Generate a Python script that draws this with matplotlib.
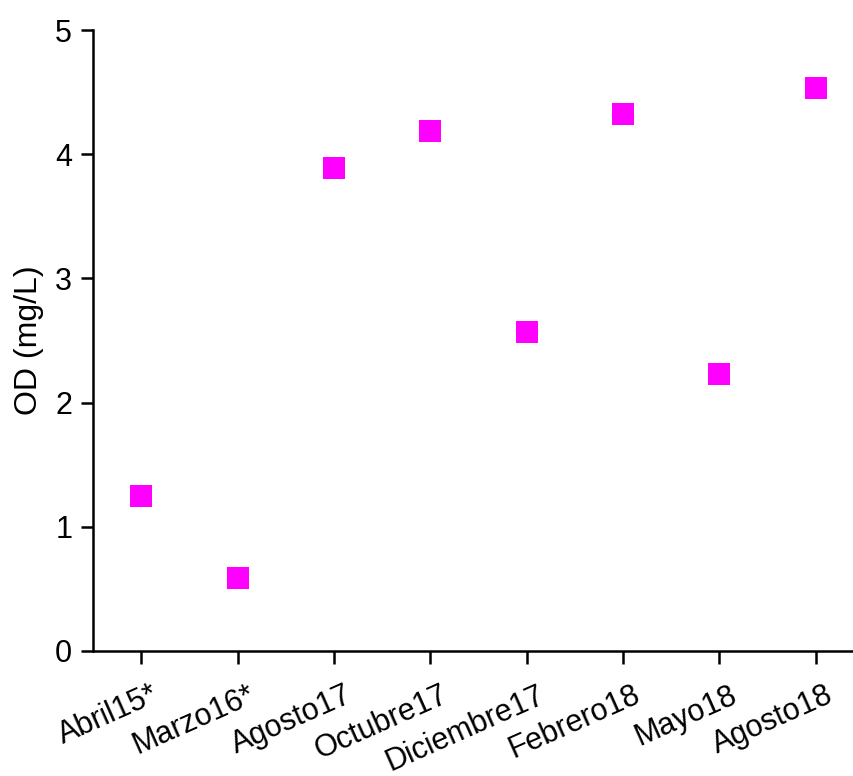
import matplotlib
matplotlib.use("Agg")
import matplotlib.pyplot as plt
from matplotlib.transforms import ScaledTranslation

# Sampling campaigns and dissolved oxygen (mg/L)
campaigns = ["Abril15*", "Marzo16*", "Agosto17", "Octubre17",
             "Diciembre17", "Febrero18", "Mayo18", "Agosto18"]
od_values = [1.25, 0.59, 3.89, 4.19, 2.57, 4.32, 2.23, 4.53]

plt.rcParams["font.family"] = ["Liberation Sans", "DejaVu Sans"]

fig = plt.figure(figsize=(8.54, 7.76), dpi=100)
ax = fig.add_axes([93 / 854, 125 / 776, 771 / 854, 621 / 776])

x = list(range(len(campaigns)))
ax.plot(x, od_values, linestyle="none", marker="s", markersize=16,
        color="#FF00FF", markeredgewidth=0, clip_on=False)

ax.set_xlim(-0.5, len(campaigns) - 0.5)
ax.set_ylim(0, 5)
ax.set_yticks([0, 1, 2, 3, 4, 5])
ax.set_xticks(x)
ax.set_xticklabels(campaigns, rotation=24, ha="right", rotation_mode="anchor")

ax.spines["top"].set_visible(False)
ax.spines["right"].set_visible(False)
for s in ("left", "bottom"):
    ax.spines[s].set_linewidth(1.8)

ax.tick_params(axis="both", width=1.8, length=9, labelsize=22, direction="out")
ax.tick_params(axis="y", pad=6)
ax.tick_params(axis="x", pad=12)
ax.set_ylabel("OD (mg/L)", fontsize=23, labelpad=8)

# nudge x labels a bit right so they end just past the tick
offset = ScaledTranslation(10 / 100, 0, fig.dpi_scale_trans)
for lbl in ax.get_xticklabels():
    lbl.set_transform(lbl.get_transform() + offset)

fig.savefig("out.png", dpi=100)
